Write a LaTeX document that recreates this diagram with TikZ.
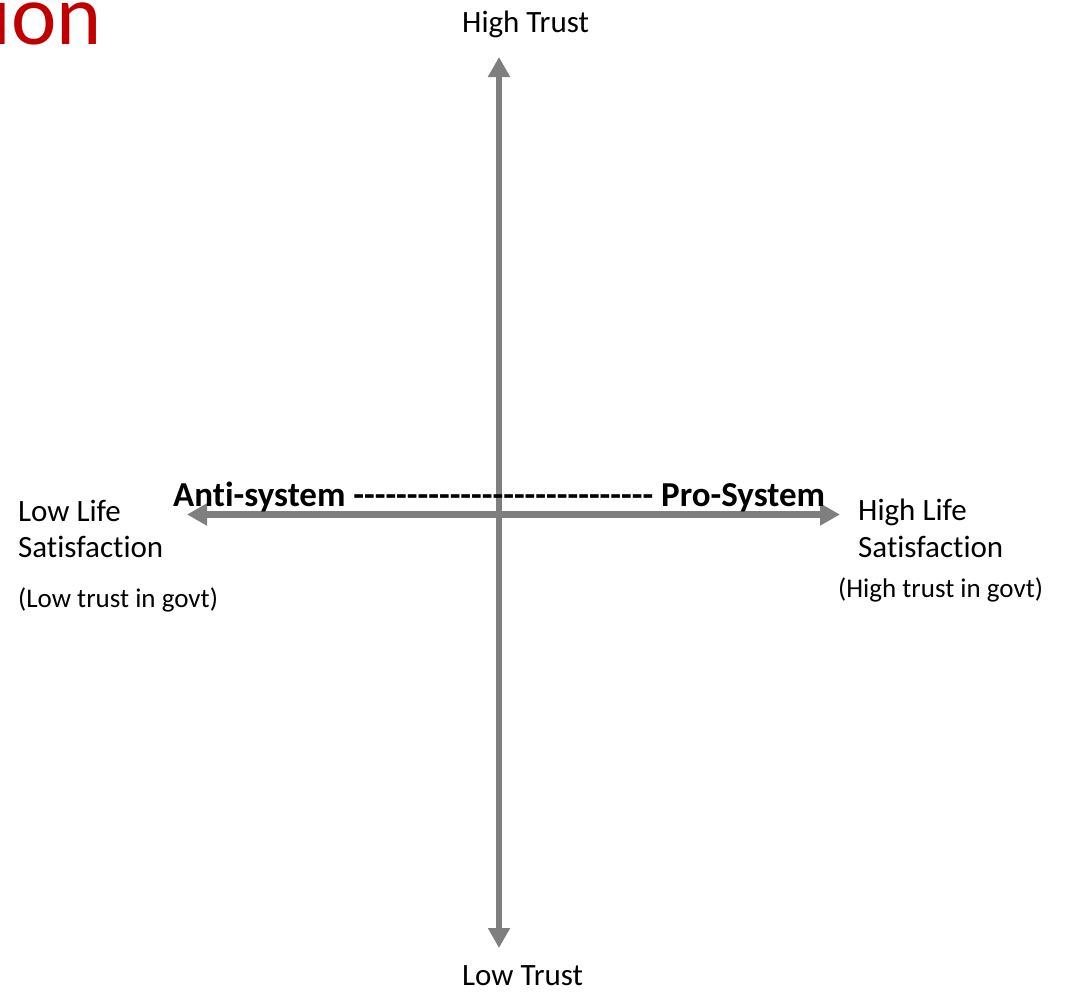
\documentclass[tikz,border=0pt]{standalone}
\usepackage{fontspec}
\setmainfont{Carlito}[Ligatures={TeXOff,CommonOff}]
\usetikzlibrary{arrows.meta}
\definecolor{axisgray}{HTML}{7F7F7F}
\definecolor{titlered}{HTML}{C00000}
\newcommand\hy{-\kern0pt}
\newcommand\dashrun{\hy\hy\hy\hy\hy\hy\hy\hy\hy\hy\hy\hy\hy\hy\hy\hy\hy\hy\hy\hy\hy\hy\hy\hy\hy\hy\hy\hy}
\tikzset{
  axis/.style={draw=axisgray, line width=6.7bp, {Triangle[width=21bp,length=20bp]}-{Triangle[width=21bp,length=20bp]}},
  lbl/.style={inner sep=0pt, anchor=base west, font=\fontsize{31bp}{37bp}\selectfont},
  sublbl/.style={inner sep=0pt, anchor=base west, font=\fontsize{27bp}{32bp}\selectfont},
  bold/.style={inner sep=0pt, anchor=base west, font=\fontsize{35bp}{42bp}\selectfont\bfseries},
  ttl/.style={inner sep=0pt, anchor=base east, text=titlered, font=\fontsize{86bp}{100bp}\selectfont}
}
\begin{document}
\begin{tikzpicture}[x=1bp,y=-1bp]
\useasboundingbox (0,0) rectangle (1067,992);
\clip (0,0) rectangle (1067,992);
\fill[white] (0,0) rectangle (1067,992);
% title fragment
\node[ttl] (title) at (102,44) {ion};
% axis end points
\coordinate (vtop) at (499,57);
\coordinate (vbot) at (499,948);
\coordinate (hleft) at (187,514.5);
\coordinate (hright) at (840,514.5);
\draw[axis] (vbot) -- (vtop);
\draw[axis] (hleft) -- (hright);
% labels
\node[lbl] (hightrust) at (462,32) {High Trust};
\node[lbl] (lowtrust) at (462,985) {Low Trust};
\node[lbl] (lowlife1) at (18,521) {Low Life};
\node[lbl] (lowlife2) at (18,557) {Satisfaction};
\node[sublbl] (lowgovt) at (18,607) {(Low trust in govt)};
\node[lbl] (highlife1) at (858,520) {High Life};
\node[lbl] (highlife2) at (858,557) {Satisfaction};
\node[sublbl] (highgovt) at (838,597) {(High trust in govt)};
\node[bold] (system) at (173,506) {Anti-system \dashrun{} Pro-System};
\end{tikzpicture}
\end{document}
